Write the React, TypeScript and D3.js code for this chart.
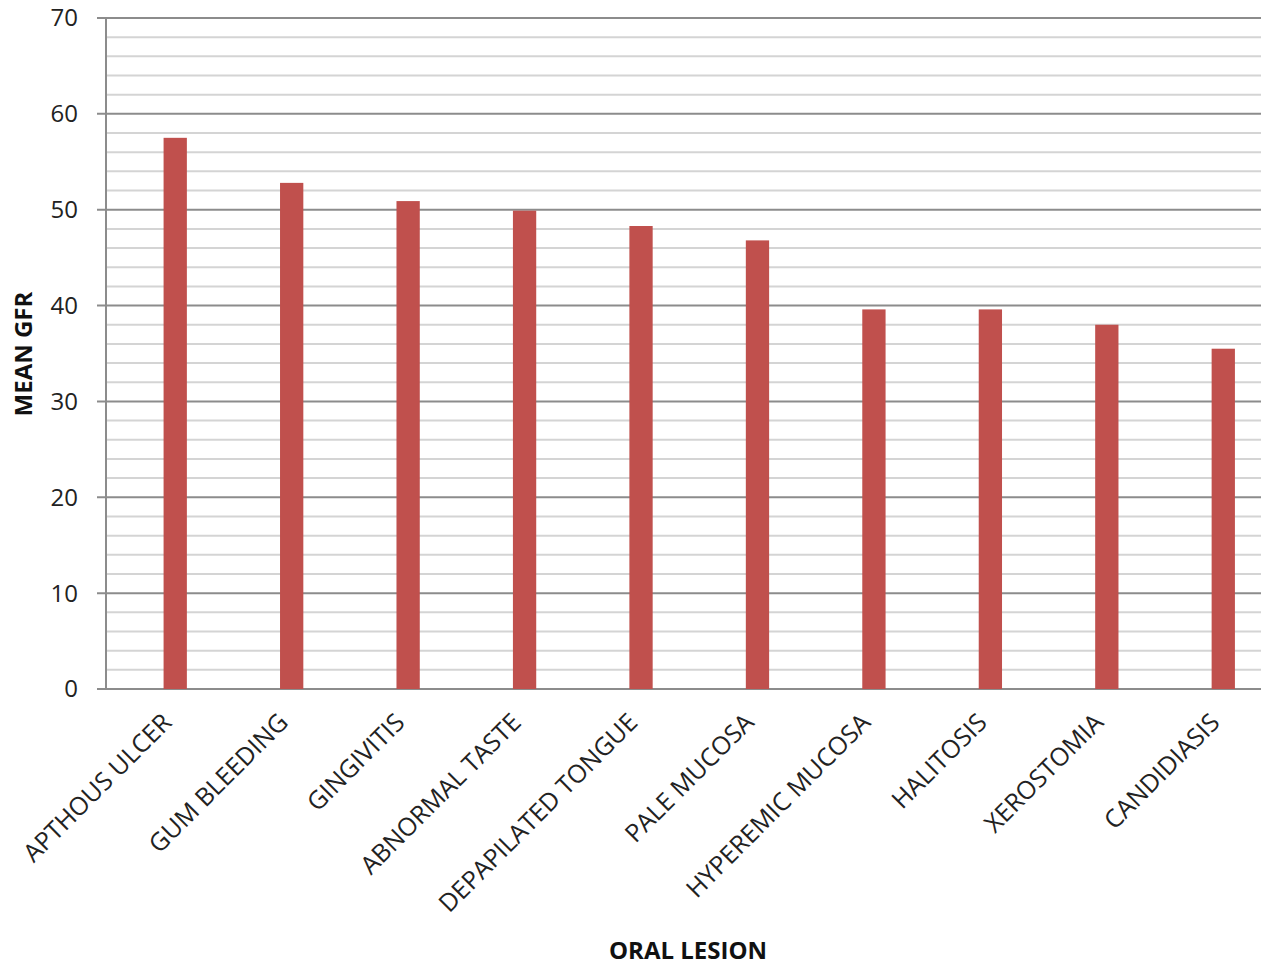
import { useEffect, useRef } from "react";
import * as d3 from "d3";

const categories = [
  "APTHOUS ULCER",
  "GUM BLEEDING",
  "GINGIVITIS",
  "ABNORMAL TASTE",
  "DEPAPILATED TONGUE",
  "PALE MUCOSA",
  "HYPEREMIC MUCOSA",
  "HALITOSIS",
  "XEROSTOMIA",
  "CANDIDIASIS",
];
const meanGfr = [57.5, 52.8, 50.9, 49.9, 48.3, 46.8, 39.6, 39.6, 38.0, 35.5];
const majorTicks = [0, 10, 20, 30, 40, 50, 60, 70];
const minorTicks = d3.range(2, 70, 2).filter((v) => v % 10 !== 0);

const WIDTH = 1261;
const HEIGHT = 967;
const FONT = "'Open Sans', 'Noto Sans', sans-serif";

export default function App() {
  const svgRef = useRef<SVGSVGElement | null>(null);

  useEffect(() => {
    if (!svgRef.current) return;
    const svg = d3.select(svgRef.current);
    svg.selectAll("*").remove();

    const left = 106;
    const right = WIDTH;
    const top = 18;
    const bottom = 689;

    const y = d3.scaleLinear().domain([0, 70]).range([bottom, top]);
    const x = d3
      .scaleBand<string>()
      .domain(categories)
      .range([117, 117 + 116.45 * categories.length])
      .paddingInner(0.8)
      .paddingOuter(0.4);

    // minor grid
    svg
      .append("g")
      .selectAll("line")
      .data(minorTicks)
      .join("line")
      .attr("x1", left)
      .attr("x2", right)
      .attr("y1", (d) => y(d))
      .attr("y2", (d) => y(d))
      .attr("stroke", "#d4d4d4")
      .attr("stroke-width", 2);

    // major grid + tick marks
    svg
      .append("g")
      .selectAll("line")
      .data(majorTicks)
      .join("line")
      .attr("x1", left - 9)
      .attr("x2", right)
      .attr("y1", (d) => y(d))
      .attr("y2", (d) => y(d))
      .attr("stroke", "#8c8c8c")
      .attr("stroke-width", 2);

    // y axis line
    svg
      .append("line")
      .attr("x1", left)
      .attr("x2", left)
      .attr("y1", top)
      .attr("y2", bottom)
      .attr("stroke", "#8c8c8c")
      .attr("stroke-width", 2);

    // bars
    svg
      .append("g")
      .selectAll("rect")
      .data(meanGfr)
      .join("rect")
      .attr("x", (_, i) => x(categories[i])!)
      .attr("width", x.bandwidth())
      .attr("y", (d) => y(d))
      .attr("height", (d) => bottom - y(d))
      .attr("fill", "#c0504d");

    // y tick labels
    svg
      .append("g")
      .selectAll("text")
      .data(majorTicks)
      .join("text")
      .attr("x", 78)
      .attr("y", (d) => y(d))
      .attr("dy", "0.35em")
      .attr("text-anchor", "end")
      .attr("font-family", FONT)
      .attr("font-size", 24)
      .attr("fill", "#222")
      .text((d) => d);

    // x labels
    svg
      .append("g")
      .selectAll("text")
      .data(categories)
      .join("text")
      .attr(
        "transform",
        (d) => `translate(${x(d)! + x.bandwidth() / 2 - 2},${bottom + 35}) rotate(-45)`
      )
      .attr("text-anchor", "end")
      .attr("font-family", FONT)
      .attr("font-size", 25)
      .attr("fill", "#222")
      .text((d) => d);

    // axis titles
    svg
      .append("text")
      .attr("x", 688)
      .attr("y", 959)
      .attr("text-anchor", "middle")
      .attr("font-family", FONT)
      .attr("font-size", 24)
      .attr("font-weight", 700)
      .attr("fill", "#111")
      .text("ORAL LESION");

    svg
      .append("text")
      .attr("transform", `translate(32,354) rotate(-90)`)
      .attr("text-anchor", "middle")
      .attr("font-family", FONT)
      .attr("font-size", 24)
      .attr("font-weight", 700)
      .attr("fill", "#111")
      .text("MEAN GFR");
  }, []);

  return (
    <svg
      ref={svgRef}
      width={WIDTH}
      height={HEIGHT}
      style={{ position: "absolute", left: 0, top: 0, background: "#fff" }}
    />
  );
}
